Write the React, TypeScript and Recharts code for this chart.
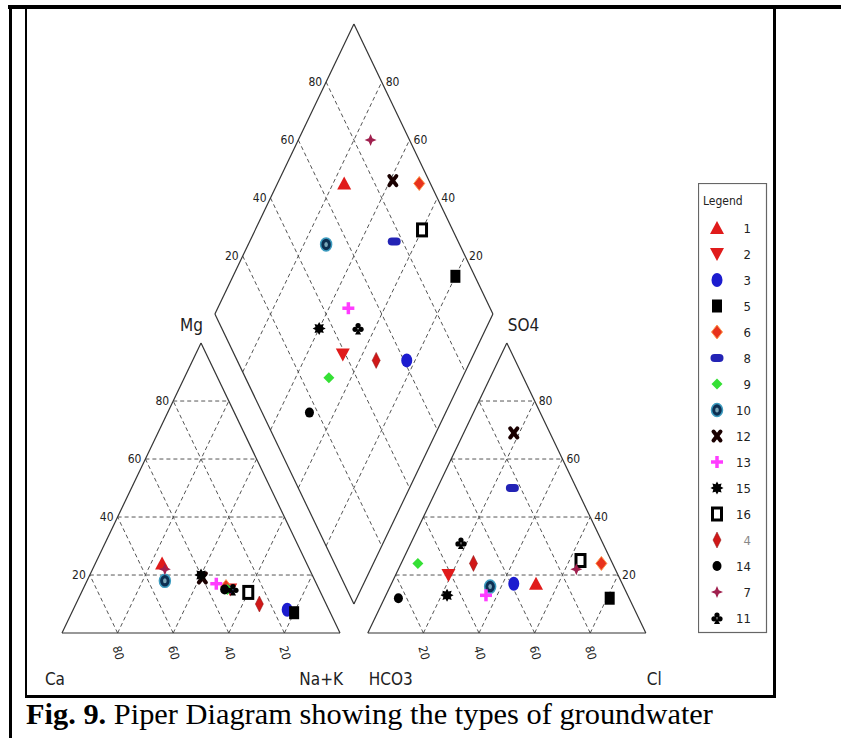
import React from 'react';
import { ScatterChart, Scatter, XAxis, YAxis, ReferenceLine, Legend } from 'recharts';

// samples, in the order of the legend
const samples = ['1', '2', '3', '5', '6', '8', '9', '10', '12', '13', '15', '16', '4', '14', '7', '11'];
const markers = [
  'triUp', 'triDown', 'circle', 'square', 'diamondRed', 'oval', 'diamondGreen', 'ring',
  'cross', 'plus', 'star', 'openSquare', 'spade', 'dot', 'star4', 'club',
];

// cations, % meq/l
const caPct = [52, 32, 15, 13, 33, 33, 33, 54, 40, 36, 40, 26, 24, 34, 52, 31];
const mgPct = [24, 15, 8, 7, 16, 15, 15, 18, 19, 17, 20, 14, 10, 15, 22, 15];
const naKPct = [24, 53, 77, 80, 51, 52, 52, 28, 41, 47, 40, 60, 66, 51, 26, 54];

// anions, % meq/l
const so4Pct = [17, 20, 17, 12, 24, 50, 24, 16, 69, 13, 13, 25, 24, 12, 22, 31];
const clPct = [52, 19, 44, 81, 72, 27, 6, 36, 18, 36, 22, 64, 26, 5, 64, 18];
const hco3Pct = [31, 61, 39, 7, 4, 23, 70, 48, 13, 51, 65, 11, 50, 83, 14, 51];

const gridTicks = [20, 40, 60, 80];

const FONT = "'Liberation Sans Narrow', 'DejaVu Sans Condensed', 'Arial Narrow', sans-serif";

// piper geometry: triangle side 100 wide, 100 high, gap 10
const GAP = 10;
const RX = 100 + GAP; // right triangle x offset

const cationXY = (i: number) => ({ x: naKPct[i] + mgPct[i] / 2, y: mgPct[i] });
const anionXY = (i: number) => ({ x: RX + clPct[i] + so4Pct[i] / 2, y: so4Pct[i] });
// diamond: project cation along constant Na+K, anion along constant HCO3
const diamondXY = (i: number) => {
  const n = naKPct[i];
  const c = RX + 100 - hco3Pct[i];
  return { x: (n + c) / 2, y: c - n };
};

type Seg = [number, number, number, number];

const outline: Seg[] = [
  [0, 0, 100, 0], [100, 0, 50, 100], [50, 100, 0, 0],
  [RX, 0, RX + 100, 0], [RX + 100, 0, RX + 50, 100], [RX + 50, 100, RX, 0],
  [105, 10, 155, 110], [155, 110, 105, 210], [105, 210, 55, 110], [55, 110, 105, 10],
];

const grid: Seg[] = [];
gridTicks.forEach((k) => {
  // left triangle
  grid.push([k / 2, k, 100 - k / 2, k]);
  grid.push([k, 0, 50 + k / 2, 100 - k]);
  grid.push([100 - k, 0, (100 - k) / 2, 100 - k]);
  // right triangle
  grid.push([RX + k / 2, k, RX + 100 - k / 2, k]);
  grid.push([RX + k, 0, RX + 50 + k / 2, 100 - k]);
  grid.push([RX + 100 - k, 0, RX + (100 - k) / 2, 100 - k]);
  // diamond
  grid.push([(k + 110) / 2, 110 - k, (k + 210) / 2, 210 - k]);
  const c = 110 + k;
  grid.push([c / 2, c, (c + 100) / 2, c - 100]);
});

type Lbl = { x: number; y: number; text: string; kind: string };
const labels: Lbl[] = [];
gridTicks.forEach((k) => {
  labels.push({ x: k / 2, y: k, text: String(k), kind: 'left' });
  labels.push({ x: RX + 100 - k / 2, y: k, text: String(k), kind: 'right' });
  labels.push({ x: 100 - k, y: 0, text: String(k), kind: 'base' });
  labels.push({ x: RX + k, y: 0, text: String(k), kind: 'base' });
  labels.push({ x: (110 + k) / 2, y: 110 + k, text: String(k), kind: 'left' });
  labels.push({ x: (310 - k) / 2, y: 110 + k, text: String(k), kind: 'right' });
});
labels.push({ x: 0, y: 0, text: 'Ca', kind: 'nameL' });
labels.push({ x: 100, y: 0, text: 'Na+K', kind: 'nameL' });
labels.push({ x: RX, y: 0, text: 'HCO3', kind: 'nameR' });
labels.push({ x: RX + 100, y: 0, text: 'Cl', kind: 'nameR' });
labels.push({ x: 50, y: 100, text: 'Mg', kind: 'apexL' });
labels.push({ x: RX + 50, y: 100, text: 'SO4', kind: 'apexR' });

function Marker({ kind, cx, cy }: { kind: string; cx: number; cy: number }) {
  switch (kind) {
    case 'triUp':
      return <polygon points={`${cx},${cy - 7} ${cx + 7},${cy + 6} ${cx - 7},${cy + 6}`} fill="#e01b1b" />;
    case 'triDown':
      return <polygon points={`${cx - 7},${cy - 6} ${cx + 7},${cy - 6} ${cx},${cy + 7}`} fill="#e01b1b" />;
    case 'circle':
      return <ellipse cx={cx} cy={cy} rx={5.5} ry={7} fill="#1c1ccf" />;
    case 'square':
      return <rect x={cx - 5} y={cy - 6.5} width={10} height={13} fill="#000" />;
    case 'diamondRed':
      return <polygon points={`${cx},${cy - 7} ${cx + 5.5},${cy} ${cx},${cy + 7} ${cx - 5.5},${cy}`} fill="#e8321c" stroke="#ff9a50" strokeWidth={1} />;
    case 'oval':
      return <rect x={cx - 6.5} y={cy - 4} width={13} height={8} rx={4} fill="#2323b5" />;
    case 'diamondGreen':
      return <polygon points={`${cx},${cy - 5.5} ${cx + 5.5},${cy} ${cx},${cy + 5.5} ${cx - 5.5},${cy}`} fill="#35e035" />;
    case 'ring':
      return (
        <g>
          <ellipse cx={cx} cy={cy} rx={5.5} ry={6.5} fill="#0d2f52" stroke="#3d9cc0" strokeWidth={1.5} />
          <ellipse cx={cx} cy={cy} rx={1.8} ry={2.5} fill="#7aa6b8" />
        </g>
      );
    case 'cross':
      return (
        <g stroke="#1a0000" strokeWidth={4} strokeLinecap="round">
          <line x1={cx - 3.5} y1={cy - 4.5} x2={cx + 3.5} y2={cy + 4.5} />
          <line x1={cx + 3.5} y1={cy - 4.5} x2={cx - 3.5} y2={cy + 4.5} />
        </g>
      );
    case 'plus':
      return (
        <g stroke="#ff3cff" strokeWidth={3.5}>
          <line x1={cx} y1={cy - 6} x2={cx} y2={cy + 6} />
          <line x1={cx - 6} y1={cy} x2={cx + 6} y2={cy} />
        </g>
      );
    case 'star': {
      const pts: string[] = [];
      for (let j = 0; j < 16; j++) {
        const r = j % 2 === 0 ? 6.5 : 4;
        const a = (Math.PI * j) / 8;
        pts.push(`${cx + r * Math.sin(a)},${cy - r * Math.cos(a)}`);
      }
      return <polygon points={pts.join(' ')} fill="#000" />;
    }
    case 'openSquare':
      return <rect x={cx - 4.5} y={cy - 6} width={9} height={12} fill="#fff" stroke="#000" strokeWidth={3} />;
    case 'spade':
      return <polygon points={`${cx},${cy - 8} ${cx + 4},${cy} ${cx},${cy + 8} ${cx - 4},${cy}`} fill="#d01818" stroke="#8a1010" strokeWidth={0.5} />;
    case 'dot':
      return <ellipse cx={cx} cy={cy} rx={4.5} ry={5} fill="#000" />;
    case 'star4':
      return (
        <polygon
          points={`${cx},${cy - 6} ${cx + 1.8},${cy - 1.8} ${cx + 6},${cy} ${cx + 1.8},${cy + 1.8} ${cx},${cy + 6} ${cx - 1.8},${cy + 1.8} ${cx - 6},${cy} ${cx - 1.8},${cy - 1.8}`}
          fill="#a0204e"
        />
      );
    case 'club':
      return (
        <g fill="#000">
          <circle cx={cx} cy={cy - 3} r={2.6} />
          <circle cx={cx - 3} cy={cy + 0.8} r={2.6} />
          <circle cx={cx + 3} cy={cy + 0.8} r={2.6} />
          <polygon points={`${cx},${cy} ${cx + 3},${cy + 6} ${cx - 3},${cy + 6}`} />
        </g>
      );
    default:
      return null;
  }
}

function LabelShape(props: any) {
  const { cx, cy, payload } = props;
  const t = payload.text;
  const common = { fontFamily: FONT, fill: '#222' };
  switch (payload.kind) {
    case 'left':
      return <text x={cx - 4} y={cy + 4} textAnchor="end" fontSize={12} {...common}>{t}</text>;
    case 'right':
      return <text x={cx + 4} y={cy + 4} textAnchor="start" fontSize={12} {...common}>{t}</text>;
    case 'base':
      return (
        <text x={cx} y={cy + 20} textAnchor="middle" dominantBaseline="middle" fontSize={12}
          transform={`rotate(75 ${cx} ${cy + 20})`} {...common}>{t}</text>
      );
    case 'nameL':
      return <text x={cx + 3} y={cy + 52} textAnchor="end" fontSize={17} {...common}>{t}</text>;
    case 'nameR':
      return <text x={cx + 1} y={cy + 52} textAnchor="start" fontSize={17} {...common}>{t}</text>;
    case 'apexL':
      return <text x={cx + 2} y={cy - 12} textAnchor="end" fontSize={17} {...common}>{t}</text>;
    case 'apexR':
      return <text x={cx + 1} y={cy - 12} textAnchor="start" fontSize={17} {...common}>{t}</text>;
    default:
      return null;
  }
}

const renderLegend = () => (
  <svg width={70} height={451} style={{ display: 'block' }}>
    <rect x={0.5} y={0.5} width={68} height={449} fill="#fff" stroke="#666" strokeWidth={1.2} />
    <text x={5} y={22} fontSize={12} fontFamily={FONT} fill="#222">Legend</text>
    {samples.map((s, i) => {
      const cy = 45 + i * 26;
      return (
        <g key={s}>
          <Marker kind={markers[i]} cx={19} cy={cy} />
          <text x={53} y={cy + 5} textAnchor="end" fontSize={13} fontFamily={FONT} fill={s === '4' ? '#888' : '#222'}>{s}</text>
        </g>
      );
    })}
  </svg>
);

export default function App() {
  const seriesData = samples.map((_, i) => [cationXY(i), anionXY(i), diamondXY(i)]);
  return (
    <div style={{ position: 'absolute', left: 0, top: 0, width: 841, height: 738, background: '#fff' }}>
      <ScatterChart width={841} height={738} margin={{ top: 0, right: 0, bottom: 0, left: 0 }}>
        <XAxis type="number" dataKey="x" domain={[-22.3, 280.2]} allowDataOverflow hide />
        <YAxis type="number" dataKey="y" domain={[-36.2, 218.28]} allowDataOverflow hide />
        {grid.map((g, i) => (
          <ReferenceLine key={`g${i}`} segment={[{ x: g[0], y: g[1] }, { x: g[2], y: g[3] }]}
            stroke="#555" strokeDasharray="4 3" strokeWidth={1} ifOverflow="visible" />
        ))}
        {outline.map((g, i) => (
          <ReferenceLine key={`o${i}`} segment={[{ x: g[0], y: g[1] }, { x: g[2], y: g[3] }]}
            stroke="#333" strokeWidth={1.2} ifOverflow="visible" />
        ))}
        <Scatter name="labels" data={labels} shape={LabelShape} isAnimationActive={false} legendType="none" />
        {samples.map((s, i) => (
          <Scatter key={s} name={s} data={seriesData[i]} isAnimationActive={false}
            shape={(p: any) => <Marker kind={markers[i]} cx={p.cx} cy={p.cy} />} />
        ))}
        <Legend layout="vertical" align="center" verticalAlign="middle" content={renderLegend}
          wrapperStyle={{ position: 'absolute', left: 698, top: 183, width: 70, height: 451 }} />
      </ScatterChart>
      <svg width={841} height={738} style={{ position: 'absolute', left: 0, top: 0, pointerEvents: 'none' }}>
        <rect x={8} y={5} width={833} height={4} fill="#000" />
        <rect x={9} y={5} width={3} height={733} fill="#000" />
        <rect x={25} y={8} width={2} height={690} fill="#000" />
        <rect x={773} y={8} width={3} height={690} fill="#000" />
        <rect x={25} y={695} width={751} height={3} fill="#000" />
        <text x={26} y={724} fontFamily="'Liberation Serif', 'Times New Roman', serif" fontSize={30} fill="#000"
          textLength={687} lengthAdjust="spacingAndGlyphs">
          <tspan fontWeight="bold">Fig. 9.</tspan> Piper Diagram showing the types of groundwater
        </text>
      </svg>
    </div>
  );
}
